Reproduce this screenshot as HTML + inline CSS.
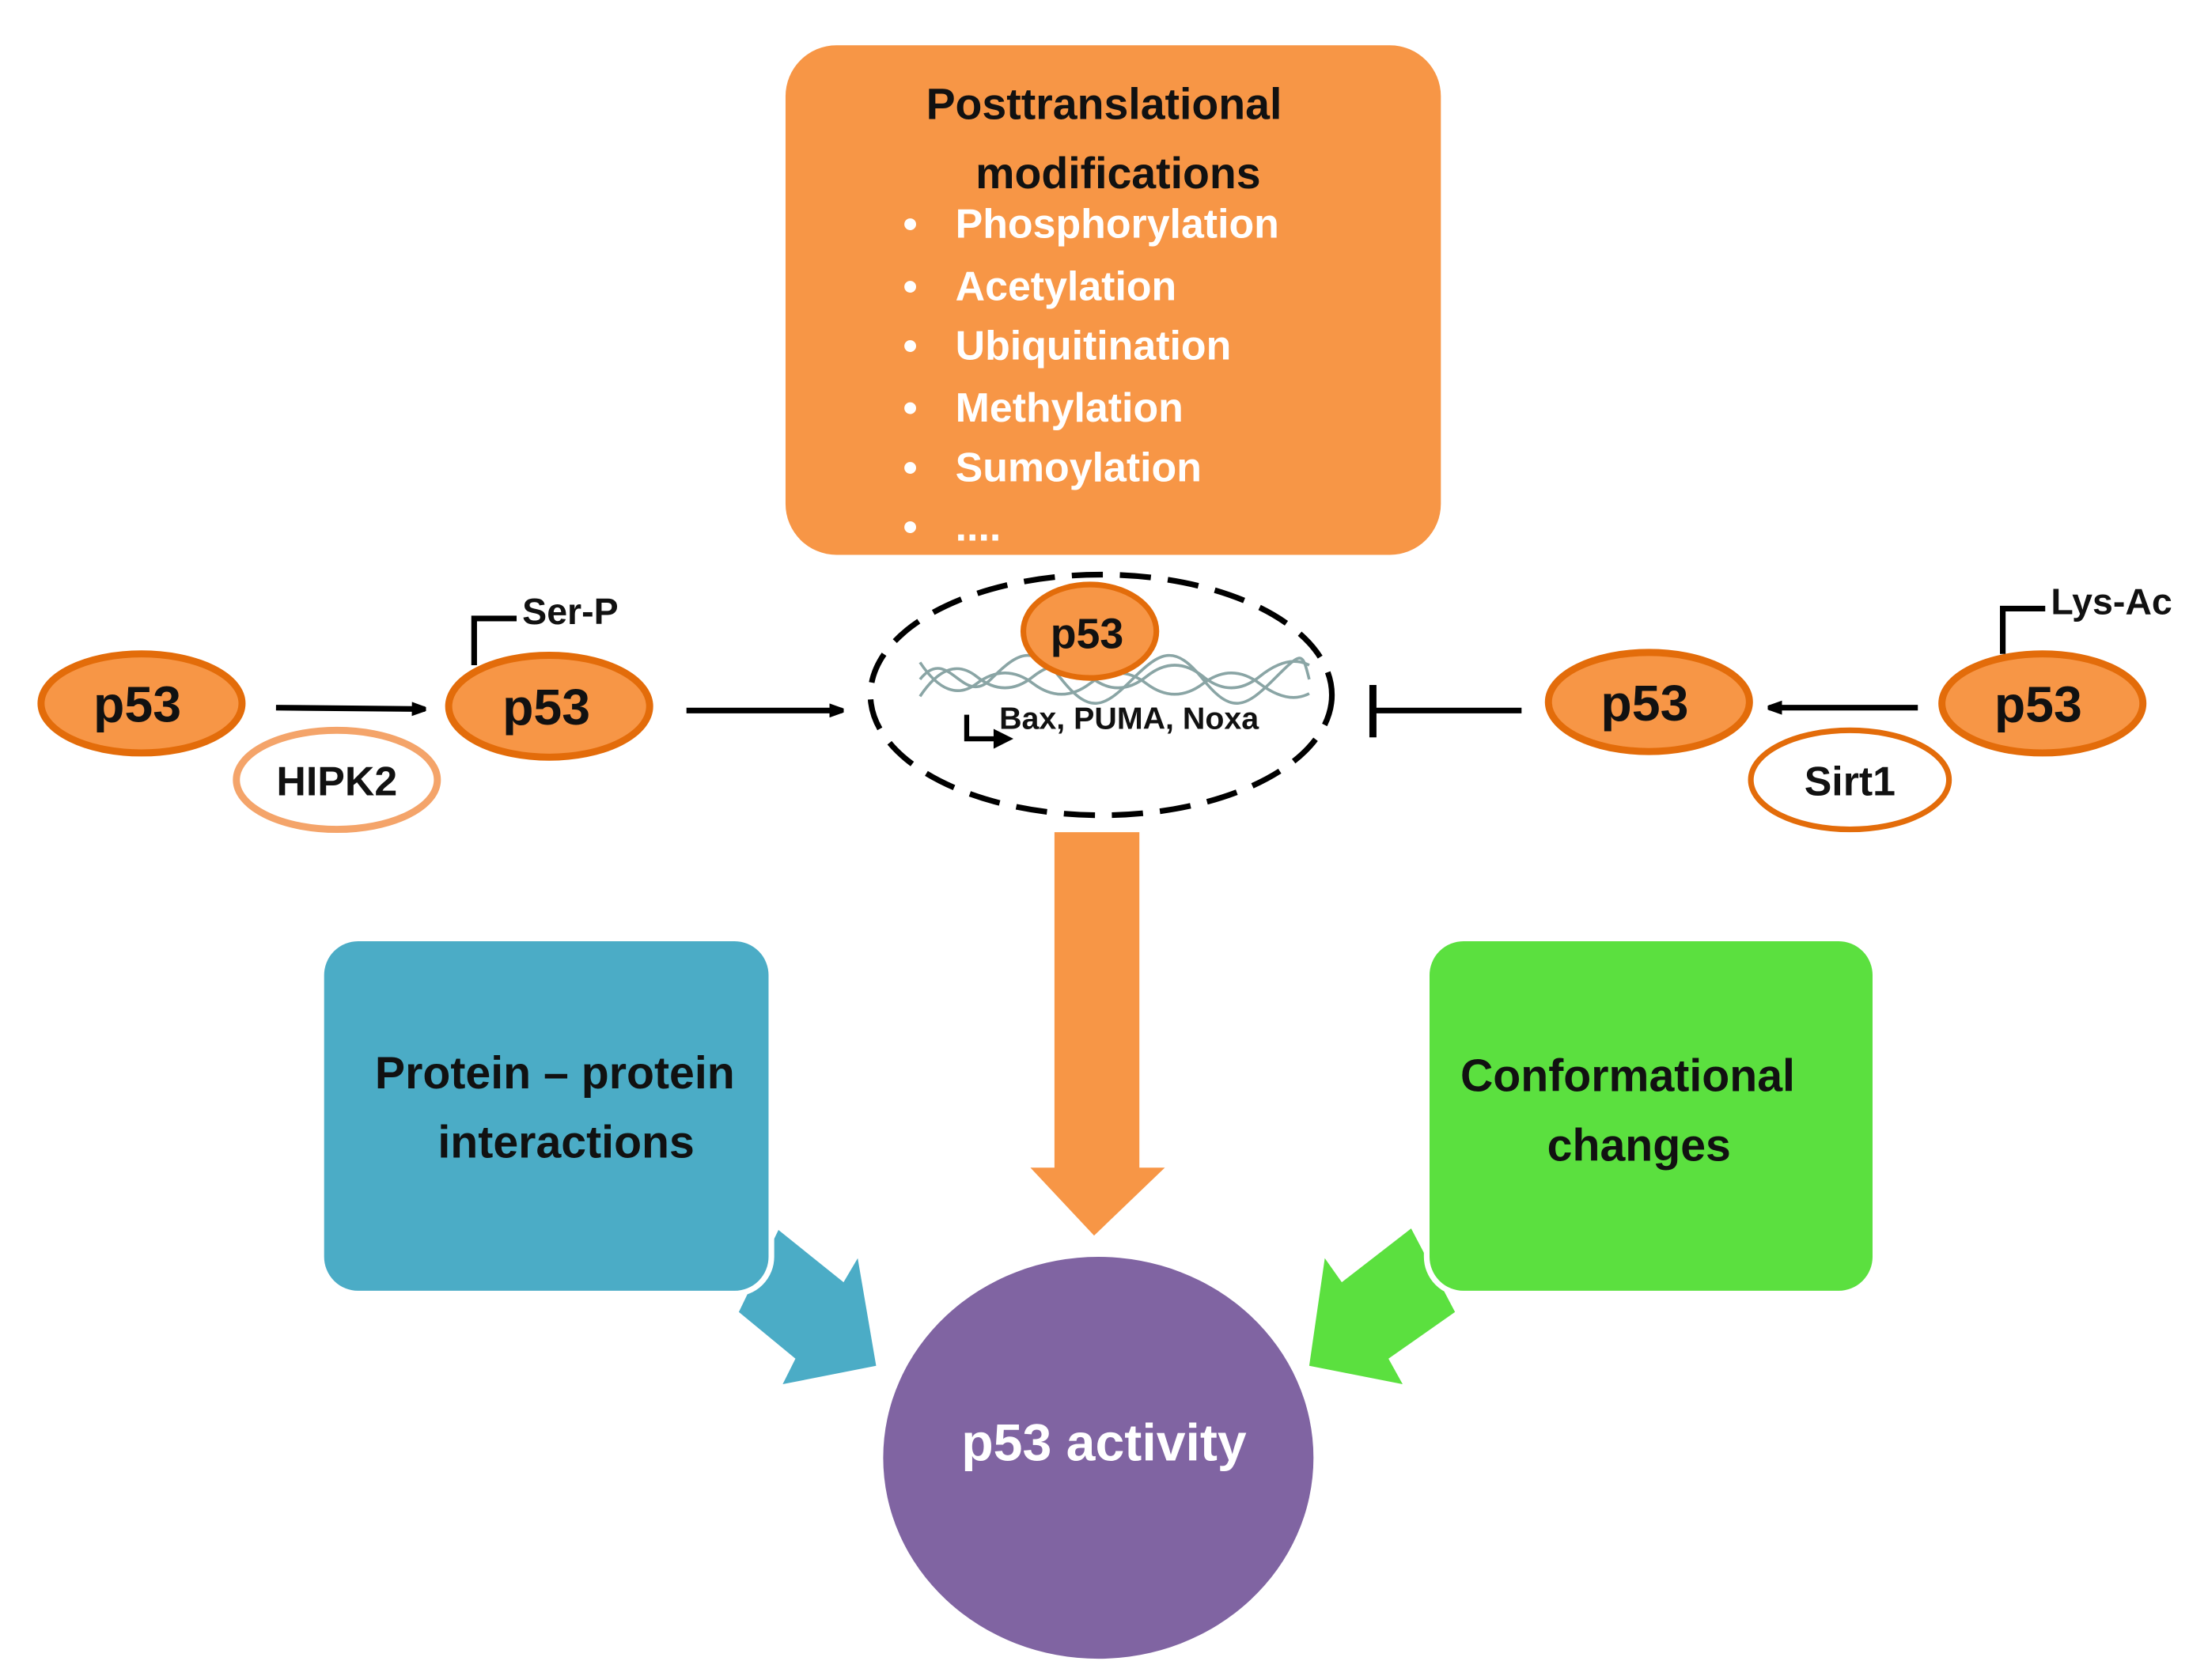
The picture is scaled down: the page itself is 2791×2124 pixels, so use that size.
<!DOCTYPE html>
<html><head><meta charset="utf-8"><style>
html,body{margin:0;padding:0;background:#fff;}
svg{display:block;}
text{font-family:"Liberation Sans",sans-serif;font-weight:bold;}
</style></head><body>
<svg width="2791" height="2124" viewBox="0 0 1560 1187" preserveAspectRatio="none" xmlns="http://www.w3.org/2000/svg">
<defs>
<marker id="ah" markerWidth="10" markerHeight="10" refX="9" refY="5" orient="auto" markerUnits="userSpaceOnUse">
<path d="M0,0 L14,5 L0,10 Z" fill="#000"/>
</marker>
</defs>
<!-- top box -->
<rect x="555" y="32" width="463" height="360" rx="36" fill="#F79646"/>
<text x="780" y="84" font-size="31" text-anchor="middle" fill="#111">Posttranslational</text>
<text x="790" y="133" font-size="31" text-anchor="middle" fill="#111">modifications</text>
<g fill="#fff" font-size="29">
<text x="638" y="168">•</text><text x="675" y="168">Phosphorylation</text>
<text x="638" y="212">•</text><text x="675" y="212">Acetylation</text>
<text x="638" y="254">•</text><text x="675" y="254">Ubiquitination</text>
<text x="638" y="298">•</text><text x="675" y="298">Methylation</text>
<text x="638" y="340">•</text><text x="675" y="340">Sumoylation</text>
<text x="638" y="382">•</text><text x="675" y="382">....</text>
</g>
<!-- left chain -->
<ellipse cx="100" cy="497" rx="71" ry="35" fill="#F79646" stroke="#E36C0A" stroke-width="5"/>
<text x="97" y="510" font-size="36" text-anchor="middle" fill="#111">p53</text>
<ellipse cx="238" cy="551" rx="71" ry="35" fill="#fff" stroke="#F4A46A" stroke-width="5"/>
<text x="238" y="562" font-size="29" text-anchor="middle" fill="#111">HIPK2</text>
<line x1="195" y1="500" x2="300" y2="501" stroke="#000" stroke-width="4" marker-end="url(#ah)"/>
<ellipse cx="388" cy="499" rx="71" ry="36" fill="#F79646" stroke="#E36C0A" stroke-width="5"/>
<text x="386" y="512" font-size="36" text-anchor="middle" fill="#111">p53</text>
<polyline points="335,470 335,437 365,437" fill="none" stroke="#000" stroke-width="4"/>
<text x="369" y="441" font-size="26" fill="#111">Ser-P</text>
<line x1="485" y1="502" x2="595" y2="502" stroke="#000" stroke-width="4" marker-end="url(#ah)"/>
<!-- center nucleus -->
<ellipse cx="778" cy="491" rx="163" ry="85" fill="none" stroke="#000" stroke-width="4" stroke-dasharray="22,12"/>
<g fill="none" stroke="#8aa5a5" stroke-width="2">
<path d="M650,468 Q670,498 690,483 T730,483 T770,483 T810,483 T850,483 T890,483 T925,490"/>
<path d="M650,492 Q670,462 690,478 T730,478 T770,478 T810,478 T850,478 T890,478 T925,470"/>
<path d="M650,480 C670,455 680,500 700,480 S730,455 750,480 S780,500 800,480 S830,455 850,480 S880,500 900,480 S920,460 925,480"/>
</g>
<ellipse cx="770" cy="446" rx="47" ry="33" fill="#F79646" stroke="#E36C0A" stroke-width="4"/>
<text x="768" y="458" font-size="30" text-anchor="middle" fill="#111">p53</text>
<text x="706" y="515" font-size="22" fill="#111">Bax, PUMA, Noxa</text>
<polyline points="683,505 683,522 705,522" fill="none" stroke="#000" stroke-width="3.5"/>
<path d="M702,515 L716,522 L702,529 Z" fill="#000"/>
<!-- right chain -->
<line x1="1075" y1="502" x2="970" y2="502" stroke="#000" stroke-width="4"/>
<line x1="970" y1="484" x2="970" y2="521" stroke="#000" stroke-width="5"/>
<ellipse cx="1165" cy="496" rx="71" ry="35" fill="#F79646" stroke="#E36C0A" stroke-width="5"/>
<text x="1162" y="509" font-size="36" text-anchor="middle" fill="#111">p53</text>
<ellipse cx="1307" cy="551" rx="70" ry="35" fill="#fff" stroke="#E36C0A" stroke-width="4"/>
<text x="1307" y="562" font-size="29" text-anchor="middle" fill="#111">Sirt1</text>
<line x1="1355" y1="500" x2="1250" y2="500" stroke="#000" stroke-width="4" marker-end="url(#ah)"/>
<ellipse cx="1443" cy="497" rx="71" ry="35" fill="#F79646" stroke="#E36C0A" stroke-width="5"/>
<text x="1440" y="510" font-size="36" text-anchor="middle" fill="#111">p53</text>
<polyline points="1415,462 1415,430 1445,430" fill="none" stroke="#000" stroke-width="4"/>
<text x="1449" y="434" font-size="26" fill="#111">Lys-Ac</text>
<!-- big orange arrow -->
<path d="M745,588 L805,588 L805,825 L823,825 L773,873 L728,825 L745,825 Z" fill="#F79646"/>
<!-- side arrows -->
<path d="M522,927 L550,869 L596,906 L606,889 L619,965 L553,978 L562,960 Z" fill="#4BACC6"/>
<path d="M1028,927 L997,868 L948,906 L936,889 L925,965 L991,978 L981,960 Z" fill="#5BE03F"/>
<!-- boxes -->
<rect x="227" y="663" width="318" height="251" rx="26" fill="#4BACC6" stroke="#fff" stroke-width="4"/>
<text x="392" y="769" font-size="32" text-anchor="middle" fill="#111">Protein – protein</text>
<text x="400" y="818" font-size="32" text-anchor="middle" fill="#111">interactions</text>
<rect x="1008" y="663" width="317" height="251" rx="26" fill="#5BE03F" stroke="#fff" stroke-width="4"/>
<text x="1150" y="771" font-size="32" text-anchor="middle" fill="#111">Conformational</text>
<text x="1158" y="820" font-size="32" text-anchor="middle" fill="#111">changes</text>
<!-- circle -->
<ellipse cx="776" cy="1030" rx="152" ry="142" fill="#8064A2"/>
<text x="780" y="1032" font-size="37" text-anchor="middle" fill="#fff">p53 activity</text>
</svg>
</body></html>
